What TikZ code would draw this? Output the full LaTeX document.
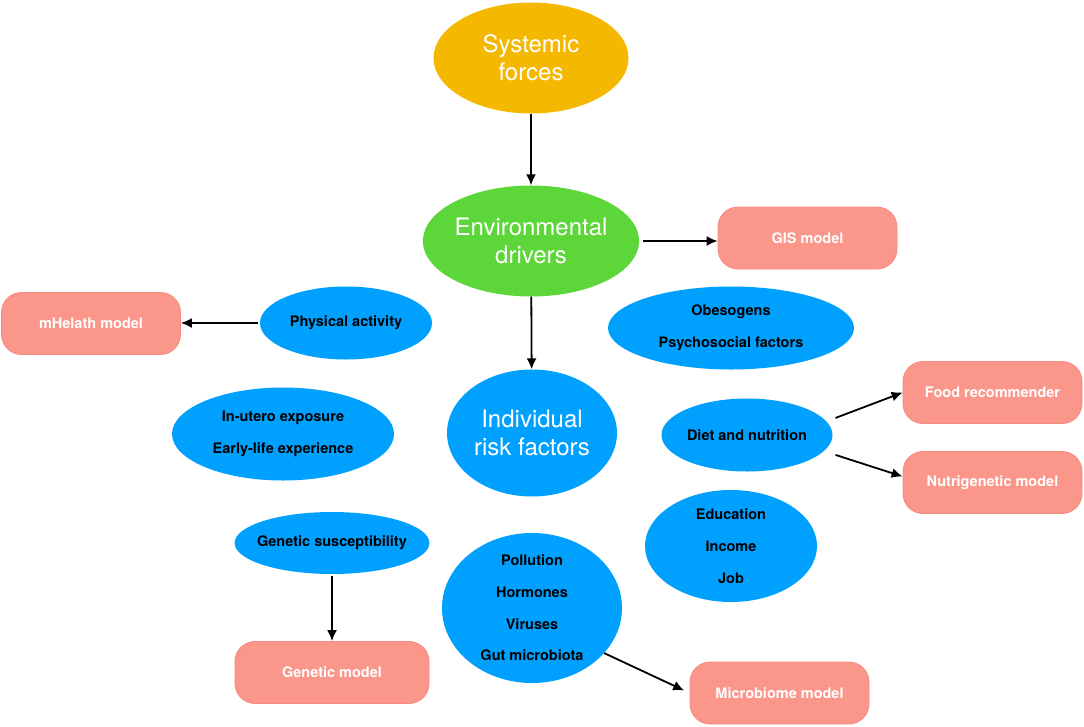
\documentclass[tikz,border=0pt]{standalone}
\usepackage{fontspec}
\setmainfont{TeX Gyre Heros}
\usetikzlibrary{shapes.geometric, arrows.meta}

\definecolor{sysorange}{HTML}{F5B800}
\definecolor{envgreen}{HTML}{5CD639}
\definecolor{factblue}{HTML}{00A0FF}
\definecolor{modelpink}{HTML}{FA968A}
\definecolor{modeledge}{HTML}{F58A80}

\begin{document}
\begin{tikzpicture}[x=1pt, y=-1pt,
    bigoval/.style={ellipse, inner sep=0pt, text=white, align=center,
        font=\fontsize{24}{28}\selectfont},
    factor/.style={ellipse, fill=factblue, inner sep=0pt, align=center,
        font=\fontsize{14.5}{31.7}\selectfont\bfseries},
    model/.style={rectangle, rounded corners=20pt, fill=modelpink, draw=modeledge,
        line width=0.8pt, text=white, minimum width=179pt, minimum height=62pt,
        inner sep=0pt, font=\fontsize{14.5}{17}\selectfont\bfseries},
    arr/.style={-{Latex[length=11pt, width=10pt]}, line width=1.8pt}]
    \useasboundingbox (0,0) rectangle (1084,726);

    % Lingkaran utama
    \node[bigoval, fill=sysorange, minimum width=195pt, minimum height=111pt] (sysforces) at (531,58) {Systemic\\forces};
    \node[bigoval, fill=envgreen, minimum width=209pt, minimum height=111pt] (envdrivers) at (531,241) {Environmental\\drivers};
    \node[bigoval, fill=factblue, minimum width=170pt, minimum height=127pt] (riskfactors) at (532,433) {Individual\\risk factors};

    % Faktor risiko
    \node[factor, minimum width=246pt, minimum height=83pt] (obesogens) at (731,328) {Obesogens\\Psychosocial factors};
    \node[factor, minimum width=172pt, minimum height=73pt] (physical) at (346,323) {Physical activity};
    \node[factor, minimum width=222pt, minimum height=93pt, inner xsep=-3pt] (inutero) at (283,434) {In-utero exposure\\Early-life experience};
    \node[factor, minimum width=171pt, minimum height=73pt] (diet) at (747,435) {Diet and nutrition};
    \node[factor, minimum width=172pt, minimum height=112pt] (education) at (731,546) {Education\\Income\\Job};
    \node[factor, minimum width=194pt, minimum height=62pt, inner xsep=-6pt] (genetic) at (332,543) {Genetic susceptibility};
    \node[factor, minimum width=180pt, minimum height=146pt] (pollution) at (532,608) {Pollution\\Hormones\\Viruses\\Gut microbiota};

    % Model
    \node[model] (gis) at (807.5,238) {GIS model};
    \node[model] (mhealth) at (91,323.5) {mHelath model};
    \node[model] (food) at (992.5,392.5) {Food recommender};
    \node[model] (nutri) at (992.5,482.5) {Nutrigenetic model};
    \node[model, minimum width=194pt] (geneticmodel) at (332,672.5) {Genetic model};
    \node[model] (microbiome) at (779.5,693) {Microbiome model};

    % Panah
    \draw[arr] (sysforces) -- (envdrivers);
    \draw[arr, shorten <=4pt] (envdrivers.east) -- (envdrivers.east -| gis.west);
    \draw[arr] (envdrivers) -- (riskfactors);
    \draw[arr, shorten <=2pt] (physical.west) -- (physical.west -| mhealth.east);
    \draw[arr, shorten <=3pt] ([yshift=16pt]diet.east) -- (food.west);
    \draw[arr, shorten <=3pt] ([yshift=-19pt]diet.east) -- ([yshift=6pt]nutri.west);
    \draw[arr, shorten <=2pt] (genetic) -- (geneticmodel);
    \draw[arr, shorten >=6pt] (pollution.-32) -- (microbiome.west);
\end{tikzpicture}
\end{document}
